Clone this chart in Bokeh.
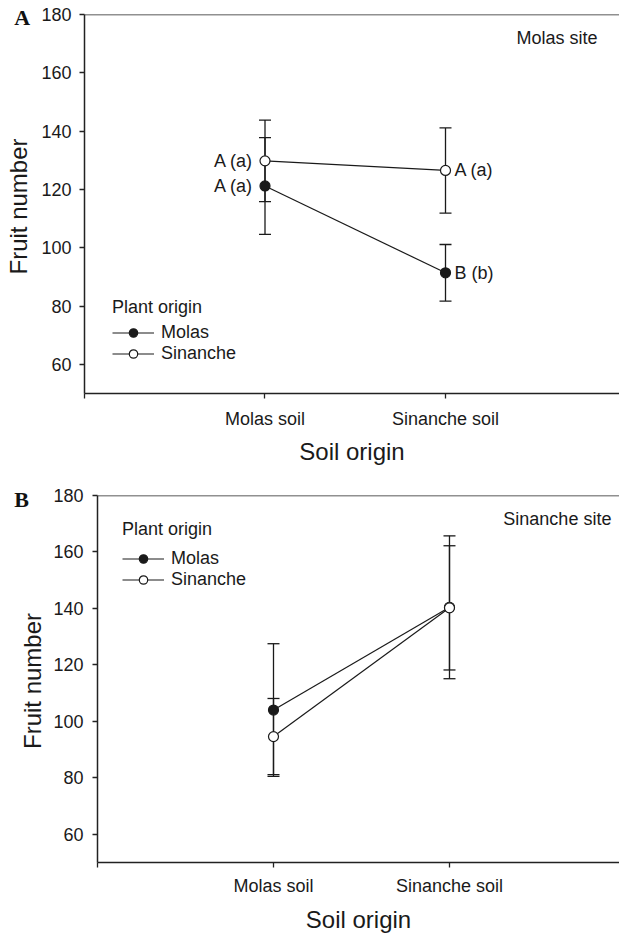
import math
from bokeh.plotting import figure
from bokeh.models import (ColumnDataSource, Whisker, TeeHead, Label, Legend, LegendItem,
                          FixedTicker, Span, Range1d)
from bokeh.layouts import column, row
from bokeh.core.properties import value, field
from bokeh.embed import file_html
from bokeh.resources import INLINE

# ---------------- data ----------------
soil = ["Molas soil", "Sinanche soil"]
plant_origin = ["Molas", "Sinanche"]
y_ticks = [60, 80, 100, 120, 140, 160, 180]

# Panel A - Molas site
A_molas_mean = [121.2, 91.4]
A_molas_se = [16.6, 9.7]
A_sin_mean = [129.8, 126.5]
A_sin_se = [14.0, 14.6]
A_molas_letters = ["A (a)", "B (b)"]
A_sin_letters = ["A (a)", "A (a)"]

# Panel B - Sinanche site
B_molas_mean = [104.0, 140.4]
B_molas_se = [23.5, 25.3]
B_sin_mean = [94.6, 140.2]
B_sin_se = [13.5, 22.0]

FONT = "Liberation Sans"
INK = "#1a1a1a"


def side_panel(letter, width, height, letter_xy, label_xy):
    """Narrow strip left of a panel holding the panel letter and the y-axis title."""
    s = figure(width=width, height=height, x_range=Range1d(0, width), y_range=Range1d(height, 0),
               x_axis_type=None, y_axis_type=None, output_backend="svg", toolbar_location=None,
               min_border_left=0, min_border_right=0, min_border_top=0, min_border_bottom=0,
               frame_align=False)
    s.outline_line_color = None
    s.xgrid.visible = False
    s.ygrid.visible = False
    s.text(x=[letter_xy[0]], y=[letter_xy[1]], text=[letter], text_align="center",
           text_baseline="middle", text_font=value("Liberation Serif"),
           text_font_style="bold", text_font_size=value("22px"), text_color="#111111")
    s.text(x=[label_xy[0]], y=[label_xy[1]], text=["Fruit number"], angle=math.pi / 2,
           text_align="center", text_baseline="middle", text_font=value(FONT),
           text_font_size=value("24px"), text_color=INK)
    return s


def make_panel(site, molas_mean, molas_se, sin_mean, sin_se, molas_letters, sin_letters,
               width, height, borders, x_end, stand, legend_loc, title_standoff, site_pos):
    xs = [i + 1 for i in range(len(soil))]
    p = figure(width=width, height=height, x_range=Range1d(0, x_end), y_range=Range1d(50, 180),
               output_backend="svg", toolbar_location=None,
               min_border_left=borders[0], min_border_right=0,
               min_border_top=borders[1], min_border_bottom=borders[2], frame_align=False)
    p.outline_line_color = None
    p.xgrid.visible = False
    p.ygrid.visible = False

    p.xaxis.ticker = FixedTicker(ticks=[0, 1, 2, 3])
    p.xaxis.major_label_overrides = {0: "", 1: soil[0], 2: soil[1], 3: ""}
    p.yaxis.ticker = FixedTicker(ticks=y_ticks)
    p.xaxis.axis_label = "Soil origin"
    for ax in (p.xaxis[0], p.yaxis[0]):
        ax.axis_line_color = "#222222"
        ax.axis_line_width = 1.5
        ax.major_tick_line_color = "#222222"
        ax.major_tick_line_width = 1.3
        ax.major_tick_in = 0
        ax.major_tick_out = 5
        ax.minor_tick_line_color = None
        ax.major_label_text_font = FONT
        ax.major_label_text_font_size = "18px"
        ax.major_label_text_color = INK
        ax.axis_label_text_font = FONT
        ax.axis_label_text_font_size = "24px"
        ax.axis_label_text_font_style = "normal"
        ax.axis_label_text_color = INK
    p.yaxis.major_label_standoff = stand[0]
    p.xaxis.major_label_standoff = stand[1]
    p.xaxis.axis_label_standoff = stand[2]

    p.add_layout(Span(location=180, dimension="width", line_color="#222222", line_width=1.5))

    sources = []
    for mean, se, fill in ((molas_mean, molas_se, INK), (sin_mean, sin_se, "white")):
        src = ColumnDataSource(dict(
            x=xs, y=mean,
            upper=[m + s for m, s in zip(mean, se)],
            lower=[m - s for m, s in zip(mean, se)]))
        p.add_layout(Whisker(source=src, base="x", upper="upper", lower="lower",
                             dimension="height", line_color=INK, line_width=1.3, level="underlay",
                             upper_head=TeeHead(size=12, line_color=INK, line_width=1.3),
                             lower_head=TeeHead(size=12, line_color=INK, line_width=1.3)))
        sources.append((src, fill))

    lines = [p.line("x", "y", source=src, line_color=INK, line_width=1.2) for src, _ in sources]
    marks = [p.scatter("x", "y", source=src, size=10, marker="circle", fill_color=fill,
                       line_color=INK, line_width=1.2) for src, fill in sources]

    for mean, letters in ((molas_mean, molas_letters), (sin_mean, sin_letters)):
        if not letters:
            continue
        tsrc = ColumnDataSource(dict(
            x=xs, y=mean, text=letters,
            align=["right" if i == 0 else "left" for i in range(len(xs))],
            xoff=[-12 if i == 0 else 9 for i in range(len(xs))]))
        p.text(x="x", y="y", text="text", source=tsrc, text_align=field("align"),
               x_offset=field("xoff"), text_baseline="middle",
               text_font=value(FONT), text_font_size=value("18px"), text_color=INK)

    legend = Legend(items=[LegendItem(label=plant_origin[i], renderers=[lines[i], marks[i]])
                           for i in range(2)],
                    location=legend_loc, title="Plant origin",
                    title_text_font=FONT, title_text_font_size="18px", title_text_font_style="normal",
                    title_text_color=INK, title_standoff=title_standoff,
                    label_text_font=FONT, label_text_font_size="18px", label_text_color=INK,
                    glyph_width=42, glyph_height=21, label_height=21, spacing=0,
                    label_standoff=7, padding=0, margin=0,
                    border_line_color=None, background_fill_alpha=0)
    p.add_layout(legend)

    p.add_layout(Label(x=site_pos[0], y=site_pos[1], text=site, text_align="right",
                       text_baseline="middle", text_font=FONT, text_font_size="18px",
                       text_color=INK))
    return p


sA = side_panel("A", 34, 470, (21.7, 17), (17.5, 206))
pA = make_panel("Molas site", A_molas_mean, A_molas_se, A_sin_mean, A_sin_se,
                A_molas_letters, A_sin_letters, width=585, height=470, borders=(50, 14, 77),
                x_end=2.964, stand=(8, 10, 6), legend_loc=(28, 29), title_standoff=4,
                site_pos=(2.842, 171.9))

sB = side_panel("B", 46, 465, (21, 29), (32, 210.5))
pB = make_panel("Sinanche site", B_molas_mean, B_molas_se, B_sin_mean, B_sin_se,
                [], [], width=573, height=465, borders=(51, 25, 69),
                x_end=2.966, stand=(9, 8, 7), legend_loc=(25, 272), title_standoff=8,
                site_pos=(2.92, 171.5))

layout = column(row(sA, pA, spacing=0), row(sB, pB, spacing=0), spacing=0)
open("out.html", "w").write(file_html(layout, INLINE))
